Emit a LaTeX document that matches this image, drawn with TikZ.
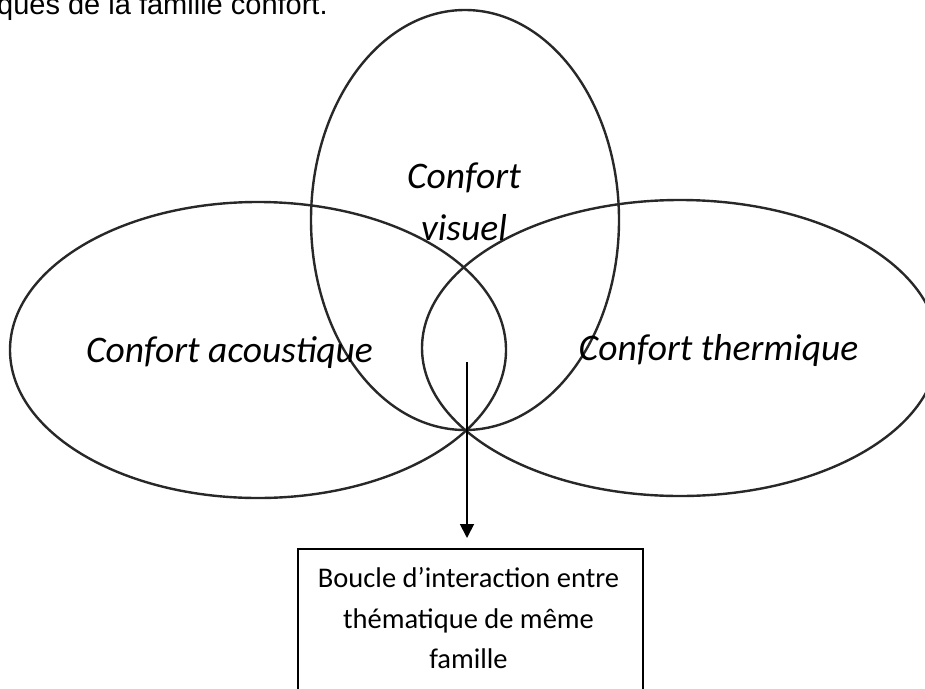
\documentclass[tikz,border=0pt]{standalone}
\usepackage{fontspec}
\setmainfont{Liberation Sans}
\newfontfamily\carlito{Carlito}
\usetikzlibrary{arrows.meta}

\definecolor{inkgray}{RGB}{40,40,40}

\tikzset{
  ring/.style={draw=inkgray, line width=2.4pt},
  theme/.style={font=\carlito\itshape\fontsize{37.5}{52}\selectfont, inner sep=0pt},
  boxline/.style={font=\carlito\fontsize{28.5}{40}\selectfont, inner sep=0pt},
  framebox/.style={draw=black, line width=1.8pt, rectangle, inner sep=0pt},
  pointer/.style={draw=black, line width=1.8pt, -{Triangle[width=14pt,length=14pt]}},
}

\begin{document}
\begin{tikzpicture}[x=1pt, y=-1pt]
  \useasboundingbox (0,0) rectangle (925,688);
  \clip (0,0) rectangle (925,688);

  % caption fragment at the top
  \node[font=\fontsize{29}{34}\selectfont, inner sep=0pt, anchor=base west] (caption) at (-3,14) {ques de la famille confort.};

  % the three themes
  \draw[ring] (465,220) ellipse [x radius=154, y radius=210];
  \draw[ring] (258,350) ellipse [x radius=248, y radius=148];
  \draw[ring] (680,348) ellipse [x radius=258, y radius=148];

  \node[theme, anchor=base] (visA) at (464,188) {Confort};
  \node[theme, anchor=base] (visB) at (464,240) {visuel};
  \node[theme, anchor=base] (acou) at (229.5,362) {Confort acoustique};
  \node[theme, anchor=base] (therm) at (718.5,360) {Confort thermique};

  % loop and its explanation box
  \coordinate (loop) at (467,362);
  \coordinate (tip) at (467,538);
  \node[framebox, anchor=north, minimum width=345pt, minimum height=170pt] (box) at (470.5,548) {};
  \node[boxline, anchor=base] (l1) at (468.5,587) {Boucle d’interaction entre};
  \node[boxline, anchor=base] (l2) at (468.5,628) {thématique de même};
  \node[boxline, anchor=base] (l3) at (468.5,668) {famille};

  \draw[pointer] (loop) -- (tip);
\end{tikzpicture}
\end{document}
